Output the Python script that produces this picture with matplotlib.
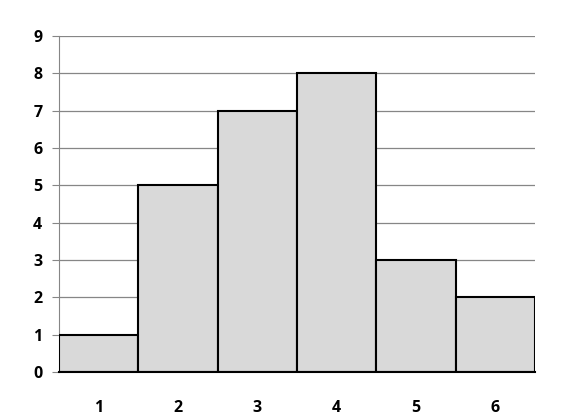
import matplotlib
matplotlib.use("Agg")
import matplotlib.pyplot as plt

plt.rcParams['font.family'] = ['Open Sans', 'DejaVu Sans']

categories = [1, 2, 3, 4, 5, 6]
values = [1, 5, 7, 8, 3, 2]
yticks = list(range(0, 10))

fig = plt.figure(figsize=(5.88, 4.19), dpi=100)
ax = fig.add_axes([59/588, 1-372/419, (535-59)/588, (372-36)/419])

ax.bar(categories, values, width=1.0, color='#d9d9d9', edgecolor='black',
       linewidth=1.5, zorder=3)

ax.set_xlim(0.5, 6.5)
ax.set_ylim(0, 9)
ax.set_yticks(yticks)
ax.set_xticks(categories)
ax.set_xticklabels([str(c) for c in categories], fontweight='bold', fontsize=11.5)
ax.set_yticklabels([str(y) for y in yticks], fontweight='bold', fontsize=11.5)
ax.yaxis.grid(True, color='#868686', linewidth=0.9, zorder=0)

for s in ['top', 'right']:
    ax.spines[s].set_visible(False)
ax.spines['left'].set_color('#868686')
ax.spines['bottom'].set_color('black')
ax.spines['bottom'].set_linewidth(1.5)
ax.spines['bottom'].set_zorder(4)
ax.tick_params(axis='y', length=5, color='#868686', pad=7)
ax.tick_params(axis='x', length=0, pad=20)

fig.savefig('out.png', dpi=100)
